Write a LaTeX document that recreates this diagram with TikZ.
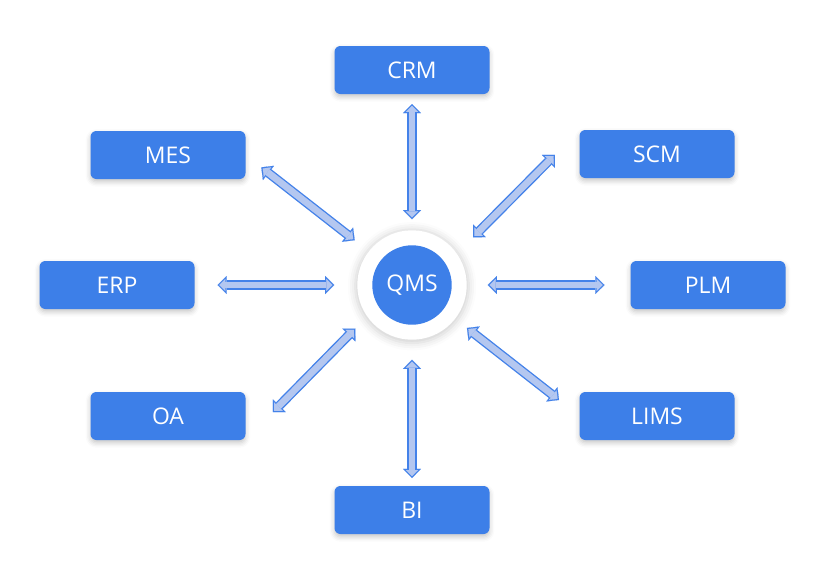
\documentclass[tikz,border=0pt]{standalone}
\usepackage{fontspec}
\setmainfont{Open Sans}
\usepackage{tikz}
\usetikzlibrary{
    arrows.meta,
    shadows.blur
}
\definecolor{qmsblue}{RGB}{61,127,232}
\definecolor{linkfill}{RGB}{180,199,240}
\definecolor{linkline}{RGB}{68,130,233}
% fat double arrow: blue outline first, light body on top
\newcommand{\qlink}[4]{%
    \draw[linkouter, shorten <=#3*0.85pt, shorten >=#4*0.85pt] (#1) -- (#2);
    \draw[linkinner, shorten <=#3*0.85pt+1.6pt, shorten >=#4*0.85pt+1.6pt] (#1) -- (#2);
}

\begin{document}
\begin{tikzpicture}[x=0.85pt,y=-0.85pt,font=\fontsize{19.5}{22}\selectfont]
    \tikzstyle{system}=[rectangle, rounded corners=5pt, fill=qmsblue, text=white, outer sep=0pt,
        minimum width=131.75pt, minimum height=40.8pt,
        blur shadow={shadow xshift=0pt, shadow yshift=-2.5pt, shadow blur radius=4pt, shadow opacity=22}]
    \tikzstyle{linkouter}=[draw=linkline, line width=8pt, >={Triangle[width=15.5pt, length=7.8pt, line width=0.1pt]}, <->]
    \tikzstyle{linkinner}=[draw=linkfill, line width=5.7pt, >={Triangle[width=10.3pt, length=5.1pt, line width=0.1pt]}, <->]

    \useasboundingbox (0,0) rectangle (822,575);

    \node[circle, fill=white, minimum size=93pt, outer sep=0pt,
        blur shadow={shadow xshift=0pt, shadow yshift=-1pt, shadow scale=1.04, shadow blur radius=6pt, shadow opacity=18}] (qms) at (412,285) {};
    \node[circle, fill=qmsblue, text=white, minimum size=67.5pt] (qmscore) at (qms.center) {QMS};

    \node[system] (crm) at (412,70) {CRM};
    \node[system] (mes) at (168,155) {MES};
    \node[system] (scm) at (657,154) {SCM};
    \node[system] (erp) at (117,285) {ERP};
    \node[system] (plm) at (708,285) {PLM};
    \node[system] (oa) at (168,416) {OA};
    \node[system] (lims) at (657,416) {LIMS};
    \node[system] (bi) at (412,510) {BI};

    \qlink{crm.south}{qms.north}{10}{11}
    \qlink{bi.north}{qms.south}{8}{20}
    \qlink{erp.east}{qms.west}{23}{23}
    \qlink{plm.west}{qms.east}{26}{21}
    \qlink{mes.east}{qms}{20}{18}
    \qlink{scm.north west}{qms.35}{35}{23}
    \qlink{oa.south east}{qms.215}{39}{17}
    \qlink{lims.west}{qms}{26}{15}
\end{tikzpicture}
\end{document}
